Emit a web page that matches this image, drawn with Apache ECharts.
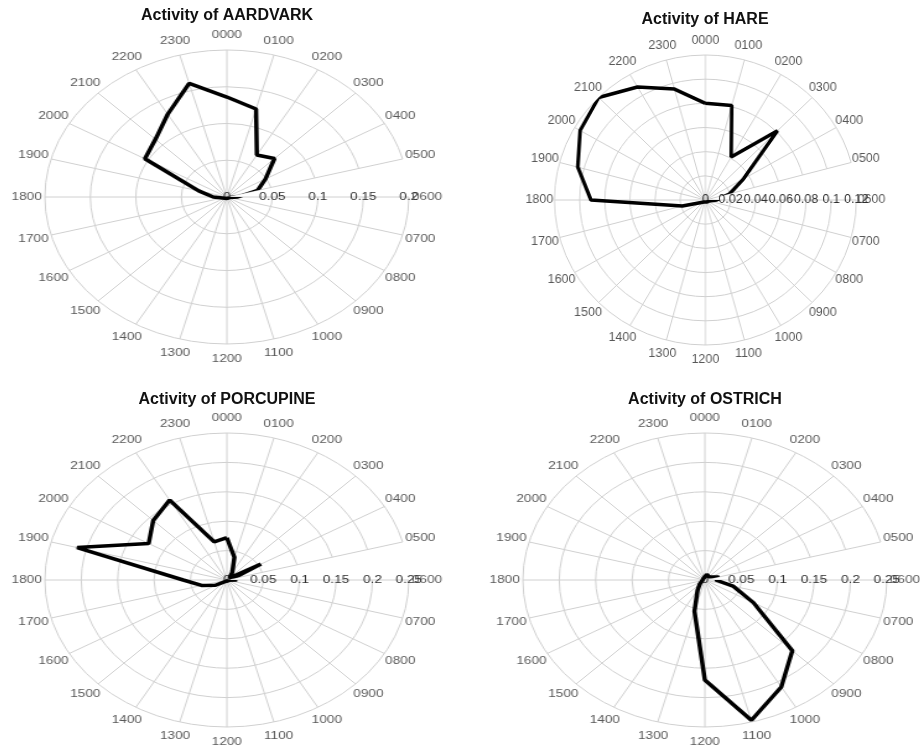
<!DOCTYPE html>
<html>
<head>
<meta charset="utf-8">
<script src="https://cdn.jsdelivr.net/npm/echarts@6/dist/echarts.min.js"></script>
<style>
  html, body { margin: 0; padding: 0; background: #fff; }
  #page { position: relative; width: 920px; height: 749px; overflow: hidden; }
  .panel { position: absolute; width: 360px; height: 375px; transform-origin: 0 0; }
  #titles { position: absolute; left: 0; top: 0; width: 920px; height: 749px; pointer-events: none; }
</style>
</head>
<body>
<div id="page">
  <div id="aardvark" class="panel"></div>
  <div id="hare" class="panel"></div>
  <div id="porcupine" class="panel"></div>
  <div id="ostrich" class="panel"></div>
  <div id="titles"></div>
</div>
<script>
const hours = ["0000", "0100", "0200", "0300", "0400", "0500", "0600", "0700",
  "0800", "0900", "1000", "1100", "1200", "1300", "1400", "1500",
  "1600", "1700", "1800", "1900", "2000", "2100", "2200", "2300"];

// activity per hour, 0000 .. 2300
const aardvark = [0.136, 0.124, 0.066, 0.074, 0.049, 0.035, 0.012, 0.003,
  0.002, 0.002, 0.002, 0.002, 0.002, 0.002, 0.002, 0.002,
  0.003, 0.005, 0.015, 0.032, 0.104, 0.111, 0.13, 0.16];
const hare = [0.08, 0.081, 0.041, 0.081, 0.035, 0.02, 0.009, 0.003,
  0.002, 0.002, 0.002, 0.002, 0.002, 0.002, 0.002, 0.002,
  0.002, 0.019, 0.091, 0.105, 0.115, 0.12, 0.108, 0.095];
const porcupine = [0.072, 0.04, 0.015, 0.005, 0.054, 0.008, 0.014, 0.002,
  0.002, 0.002, 0.002, 0.002, 0.002, 0.002, 0.002, 0.002,
  0.018, 0.036, 0.06, 0.213, 0.124, 0.143, 0.157, 0.067];
const ostrich = [0.005, 0.01, 0.01, 0.008, 0.01, 0.02, 0.015, 0.04,
  0.077, 0.17, 0.21, 0.247, 0.17, 0.055, 0.02, 0.01,
  0.005, 0.003, 0.003, 0.003, 0.003, 0.003, 0.003, 0.003];

// radius tick labels
const aardvarkTicks = [0, 0.05, 0.1, 0.15, 0.2];
const hareTicks = [0, 0.02, 0.04, 0.06, 0.08, 0.1, 0.12];
const porcupineTicks = [0, 0.05, 0.1, 0.15, 0.2, 0.25];
const ostrichTicks = [0, 0.05, 0.1, 0.15, 0.2, 0.25];

const titles = ["Activity of AARDVARK", "Activity of HARE", "Activity of PORCUPINE", "Activity of OSTRICH"];

const FONT = "Liberation Sans, Arial, Helvetica, sans-serif";
const GRID = "#d0d0d0";
const TEXT = "#2e2e2e";

// the reference panels are ellipses, so each polar is stretched sideways
const layouts = {
  aardvark: { cx: 227, top: 0, lx: 180, ly: 197, r: 147, sx: 1.238, fs: 11 },
  hare: { cx: 705, top: 0, lx: 180, ly: 200, r: 145, sx: 1.041, fs: 12 },
  porcupine: { cx: 227, top: 375, lx: 180, ly: 205, r: 147, sx: 1.238, fs: 11 },
  ostrich: { cx: 705, top: 375, lx: 180, ly: 205, r: 147, sx: 1.238, fs: 11 },
};

function buildPanel(id, values, ticks) {
  const layout = layouts[id];
  const $el = document.getElementById(id);
  $el.style.left = (layout.cx - layout.lx * layout.sx) + "px";
  $el.style.top = layout.top + "px";
  $el.style.transform = `scaleX(${layout.sx})`;

  const chart = echarts.init($el);
  const max = ticks[ticks.length - 1];
  const interval = ticks[1] - ticks[0];
  // start the categories at 0600 so the radius axis runs along the 0600 spoke
  const angleCats = hours.slice(6).concat(hours.slice(0, 6));
  const path = hours.map((h, i) => [values[i], h]);
  path.push(path[0]);

  chart.setOption({
    animation: false,
    polar: { center: [layout.lx, layout.ly], radius: layout.r },
    angleAxis: {
      type: "category",
      data: angleCats,
      startAngle: 0,
      clockwise: true,
      boundaryGap: false,
      axisLine: { show: false },
      axisTick: { show: false },
      axisLabel: { show: false },
      splitLine: { show: true, lineStyle: { color: GRID, width: 1 } },
    },
    radiusAxis: {
      type: "value",
      min: 0,
      max: max,
      interval: interval,
      axisLine: { show: false },
      axisTick: { show: false },
      axisLabel: {
        margin: 0,
        align: "center",
        verticalAlign: "middle",
        color: TEXT,
        fontSize: layout.fs,
        fontFamily: FONT,
        formatter: (v) => String(+v.toFixed(3)),
      },
      splitLine: { show: true, lineStyle: { color: GRID, width: 1 } },
    },
    series: [
      {
        // hour labels, centred a little outside the outer ring
        type: "scatter",
        coordinateSystem: "polar",
        clip: false,
        silent: true,
        symbolSize: 1,
        itemStyle: { color: "rgba(0,0,0,0)" },
        data: hours.map((h) => [max * 1.1, h]),
        label: {
          show: true,
          position: "inside",
          formatter: (p) => p.value[1],
          color: TEXT,
          fontSize: layout.fs,
          fontFamily: FONT,
        },
      },
      {
        type: "line",
        coordinateSystem: "polar",
        data: path,
        symbol: "none",
        clip: false,
        z: 3,
        lineStyle: { color: "#000", width: 3.5 },
      },
    ],
  });
}

buildPanel("aardvark", aardvark, aardvarkTicks);
buildPanel("hare", hare, hareTicks);
buildPanel("porcupine", porcupine, porcupineTicks);
buildPanel("ostrich", ostrich, ostrichTicks);

const titleChart = echarts.init(document.getElementById("titles"));
const titlePos = [[227, 8], [705, 12], [227, 392], [705, 392]];
titleChart.setOption({
  animation: false,
  title: titles.map((t, i) => ({
    text: t,
    left: titlePos[i][0],
    top: titlePos[i][1],
    textAlign: "center",
    padding: 0,
    textStyle: { fontSize: 16, fontWeight: "bold", color: "#111", fontFamily: FONT },
  })),
});
</script>
</body>
</html>
